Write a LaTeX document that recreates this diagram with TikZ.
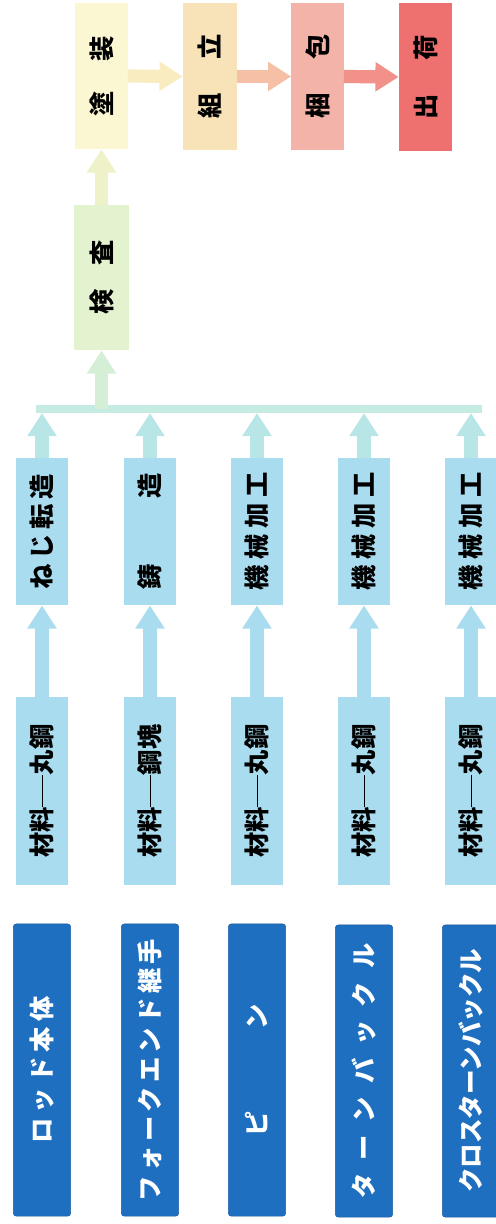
\documentclass[tikz,border=0pt]{standalone}
\usepackage{fontspec}
\usepackage{tikz}
\usetikzlibrary{arrows.meta}
\newfontfamily\jp{Noto Sans CJK JP}
\definecolor{pblue}{HTML}{1F6FC0}
\definecolor{mblue}{HTML}{A9DCEF}
\definecolor{ablue}{HTML}{A9DCEF}
\definecolor{amint}{HTML}{B8E6E6}
\definecolor{mint}{HTML}{C5EBE3}
\definecolor{agreen}{HTML}{D4EFD6}
\definecolor{kgreen}{HTML}{E3F3CF}
\definecolor{ayel}{HTML}{EFF2C8}
\definecolor{tyel}{HTML}{FBF7D3}
\definecolor{korange}{HTML}{F8E2B8}
\definecolor{kpink}{HTML}{F4B3A9}
\definecolor{sred}{HTML}{EE7170}
\definecolor{aone}{HTML}{F9ECC0}
\definecolor{atwo}{HTML}{F5C0A6}
\definecolor{athree}{HTML}{F1918A}
\tikzset{partbox/.style = {rotate=90, fill=pblue, draw=pblue!85!black, rounded corners=2pt,
                           minimum width=7.3cm, minimum height=1.43cm, inner sep=0,
                           text=white, font=\jp\bfseries\fontsize{18}{18}\selectfont}}
\tikzset{stepbox/.style = {rotate=90, fill=#1, inner sep=0, minimum height=1.3cm,
                           font=\jp\bfseries\fontsize{18}{18}\selectfont}}
\tikzset{fat/.style = {draw=#1, line width=0.33cm, -{Triangle[width=0.7cm,length=0.58cm]}}}
\newcommand\spr[2]{\makebox[#1][s]{#2}}
\newcommand\dash{\rule[0.36em]{1.25em}{0.5pt}}

\begin{document}
\begin{tikzpicture}[x=0.025cm, y=-0.025cm]
      \useasboundingbox (0,0) rectangle (495,1224);

      \node [partbox] (rod) at (42, 1070) {\spr{3.68cm}{ロ ッ ド 本 体}};
      \node [partbox] (fork) at (150, 1070) {\spr{6.55cm}{フ ォ ー ク エ ン ド 継 手}};
      \node [partbox] (pin) at (257, 1070) {\spr{3.3cm}{ピ ン}};
      \node [partbox] (turn) at (364, 1071) {\spr{6.38cm}{タ ー ン バ ッ ク ル}};
      \node [partbox] (cross) at (471, 1071) {\scalebox{0.97}[1]{クロスターンバックル}};

      \node [stepbox=mblue, minimum width=4.7cm] (mat1) at (42, 791) {材料\dash 丸鋼};
      \node [stepbox=mblue, minimum width=4.7cm] (mat2) at (150, 791) {材料\dash 鋼塊};
      \node [stepbox=mblue, minimum width=4.7cm] (mat3) at (257, 791) {材料\dash 丸鋼};
      \node [stepbox=mblue, minimum width=4.7cm] (mat4) at (364, 791) {材料\dash 丸鋼};
      \node [stepbox=mblue, minimum width=4.7cm] (mat5) at (471, 791) {材料\dash 丸鋼};

      \node [stepbox=mblue, minimum width=3.68cm] (proc1) at (42, 531.5) {\spr{2.88cm}{ね じ 転 造}};
      \node [stepbox=mblue, minimum width=3.68cm] (proc2) at (150, 531.5) {\spr{2.9cm}{鋳 造}};
      \node [stepbox=mblue, minimum width=3.68cm] (proc3) at (257, 531.5) {\spr{2.95cm}{機 械 加 工}};
      \node [stepbox=mblue, minimum width=3.68cm] (proc4) at (364, 531.5) {\spr{2.95cm}{機 械 加 工}};
      \node [stepbox=mblue, minimum width=3.68cm] (proc5) at (471, 531.5) {\spr{2.95cm}{機 械 加 工}};

      \node [stepbox=kgreen, minimum width=3.63cm, minimum height=1.38cm] (kensa) at (101.5, 277.5) {\spr{1.85cm}{検 査}};
      \node [stepbox=tyel, minimum width=3.65cm] (tosou) at (101.5, 76) {\spr{2.0cm}{塗 装}};
      \node [stepbox=korange, minimum width=3.68cm, minimum height=1.35cm] (kumi) at (210, 76.5) {\spr{2.1cm}{組 立}};
      \node [stepbox=kpink, minimum width=3.68cm] (konpo) at (317.5, 76.5) {\spr{2.1cm}{梱 包}};
      \node [stepbox=sred, minimum width=3.72cm, minimum height=1.33cm] (shuka) at (425.5, 77) {\spr{2.1cm}{出 荷}};

      \draw [fat=ablue] (mat1.east) -- (proc1.west);
      \draw [fat=ablue] (mat2.east) -- (proc2.west);
      \draw [fat=ablue] (mat3.east) -- (proc3.west);
      \draw [fat=ablue] (mat4.east) -- (proc4.west);
      \draw [fat=ablue] (mat5.east) -- (proc5.west);

      \coordinate (barL) at (36, 409);
      \coordinate (barR) at (482, 409);
      \coordinate (barB) at (0, 413);
      \draw [mint, line width=0.2cm] (barL) -- (barR);

      \draw [fat=amint] (proc1.east) -- (proc1.east |- barB);
      \draw [fat=amint] (proc2.east) -- (proc2.east |- barB);
      \draw [fat=amint] (proc3.east) -- (proc3.east |- barB);
      \draw [fat=amint] (proc4.east) -- (proc4.east |- barB);
      \draw [fat=amint] (proc5.east) -- (proc5.east |- barB);

      \draw [fat=agreen] (kensa.west |- barL) -- (kensa.west);
      \draw [fat=ayel] (kensa.east) -- (tosou.west);

      \draw [fat=aone] (tosou.south) -- (kumi.north);
      \draw [fat=atwo] (kumi.south) -- (konpo.north);
      \draw [fat=athree] (konpo.south) -- (shuka.north);
    \end{tikzpicture}
\end{document}
